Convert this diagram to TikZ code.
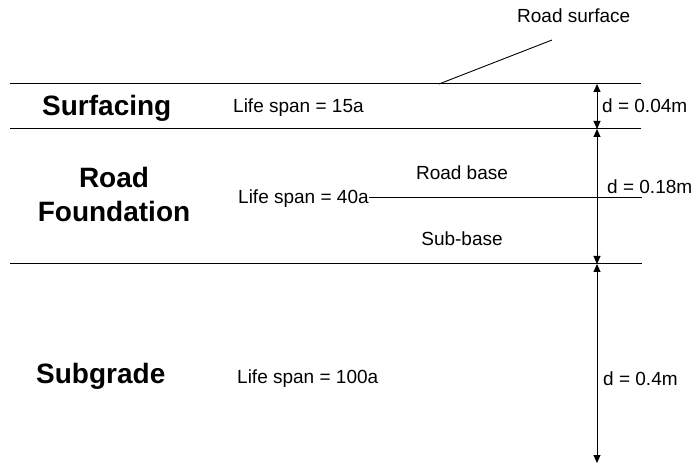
\documentclass[tikz,border=0pt]{standalone}
\usepackage{fontspec}
\setmainfont{Liberation Sans}
\usetikzlibrary{arrows.meta}
\tikzset{
  layer/.style={line width=1pt, draw=black},
  leader/.style={line width=0.9pt, draw=black},
  dim/.style={line width=0.9pt, draw=black, {Triangle[length=8pt,width=7pt]}-{Triangle[length=8pt,width=7pt]}},
  txt/.style={inner sep=0pt, font=\fontsize{19}{23}\selectfont},
  big/.style={inner sep=0pt, font=\fontsize{28}{34}\selectfont\bfseries},
}
\begin{document}
\begin{tikzpicture}[x=1pt,y=-1pt]
\useasboundingbox (0,0) rectangle (694,465);
% layer boundaries
\coordinate (t1) at (10,84);  \coordinate (t2) at (641,84);
\coordinate (m1) at (10,129); \coordinate (m2) at (641,129);
\coordinate (b1) at (10,264); \coordinate (b2) at (642,264);
\coordinate (rb) at (642,197);
\coordinate (bot) at (597,463);
\coordinate (surfpt) at (439,84);
\coordinate (leadend) at (552,40);
\draw[layer] (t1) -- (t2);
\draw[layer] (m1) -- (m2);
\draw[layer] (b1) -- (b2);
% labels
\node[txt, anchor=base west] (rs) at (517,23) {Road surface};
\draw[leader] (surfpt) -- (leadend);
\node[big, anchor=base west] (surf) at (42,116) {Surfacing};
\node[big, anchor=base] (road) at (114,188) {Road};
\node[big, anchor=base] (found) at (114,222) {Foundation};
\node[big, anchor=base west] (subg) at (36,383) {Subgrade};
\node[txt, anchor=base west] (ls15) at (233,113) {Life span = 15a};
\node[txt, anchor=base west] (ls40) at (238,204) {Life span = 40a};
\node[txt, anchor=base west] (ls100) at (237,383) {Life span = 100a};
\node[txt, anchor=base] (rbase) at (462,180) {Road base};
\node[txt, anchor=base] (sbase) at (462,246) {Sub-base};
\draw[leader] (ls40.east |- rb) -- (rb);
% dimensions
\coordinate (d0) at (597,84);
\coordinate (d1) at (597,129);
\coordinate (d2) at (597,264);
\draw[dim] (d0) -- (d1);
\draw[dim] (d1) -- (d2);
\draw[dim] (d2) -- (bot);
\node[txt, anchor=base west] (dd1) at (602,113) {d = 0.04m};
\node[txt, anchor=base west] (dd2) at (607,194) {d = 0.18m};
\node[txt, anchor=base west] (dd3) at (603,385) {d = 0.4m};
\end{tikzpicture}
\end{document}
